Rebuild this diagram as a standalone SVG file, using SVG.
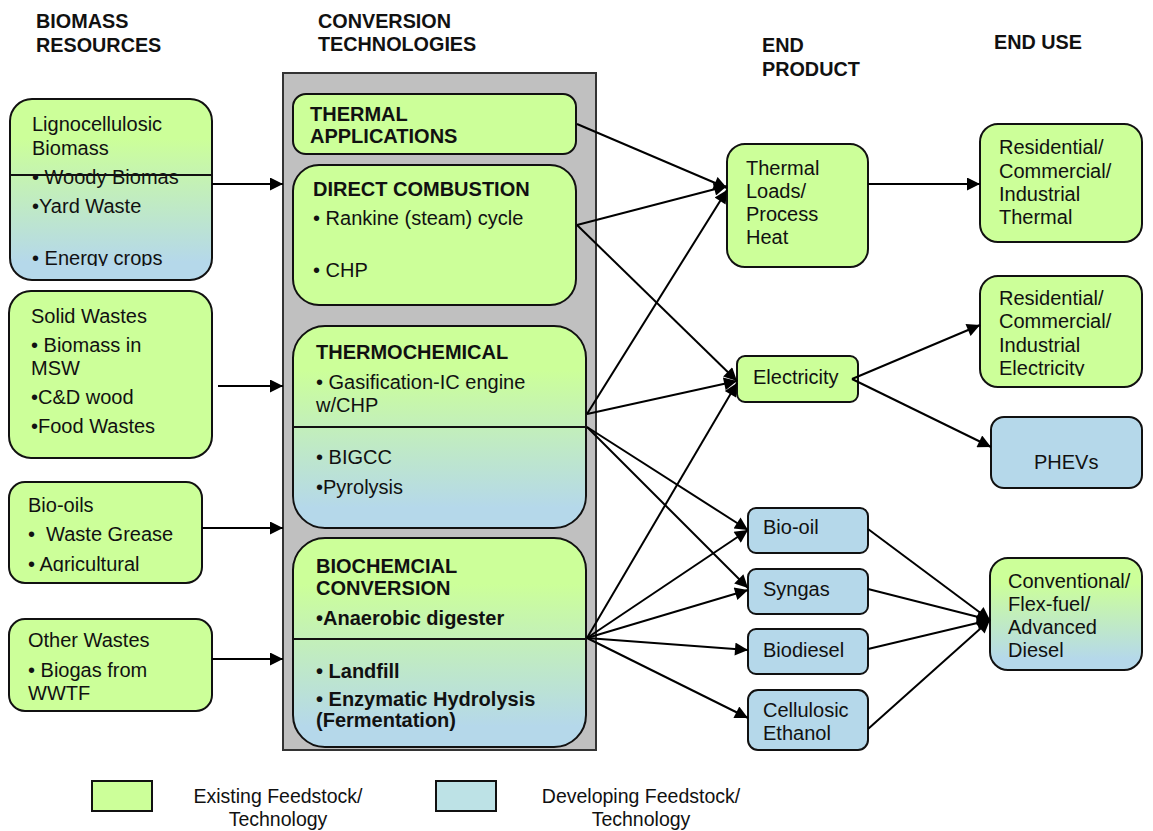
<svg xmlns="http://www.w3.org/2000/svg" width="1153" height="831" viewBox="0 0 1153 831">
<style>
text{font-family:"Liberation Sans",Arial,sans-serif;fill:#111}
.h{font-size:19.8px;font-weight:bold}
.t{font-size:20px}
.b{font-size:20px;font-weight:bold}
.lg{font-size:19.5px}
.g{fill:#ccff99;stroke:#111;stroke-width:2}
.bl{fill:#b5d8ea;stroke:#111;stroke-width:2}
.gr{fill:url(#gb);stroke:#111;stroke-width:2}
.div{stroke:#111;stroke-width:2}
.c{stroke:#000;stroke-width:2;fill:none;marker-end:url(#ah)}
</style>
<defs>
<linearGradient id="gb" x1="0" y1="0" x2="0" y2="1">
<stop offset="0.22" stop-color="#ccff99"/>
<stop offset="0.9" stop-color="#b5d8ea"/>
</linearGradient>
<marker id="ah" viewBox="0 0 10 10" refX="10" refY="5" markerWidth="15" markerHeight="13" markerUnits="userSpaceOnUse" orient="auto">
<path d="M0,0 L10,5 L0,10 z" fill="#000"/>
</marker>
<clipPath id="c1"><rect x="10" y="100" width="200" height="166"/></clipPath>
<clipPath id="c2"><rect x="10" y="483" width="190" height="89"/></clipPath>
<clipPath id="c3"><rect x="981" y="277" width="160" height="99"/></clipPath>
</defs>
<rect width="1153" height="831" fill="#fff"/>

<g id="headers">
<text class="h" x="36" y="28">BIOMASS</text>
<text class="h" x="36" y="52">RESOURCES</text>
<text class="h" x="318" y="28">CONVERSION</text>
<text class="h" x="318" y="51">TECHNOLOGIES</text>
<text class="h" x="762" y="52">END</text>
<text class="h" x="762" y="76">PRODUCT</text>
<text class="h" x="994" y="49">END USE</text>
</g>

<g id="conversion-container">
<rect x="283" y="73" width="313" height="677" fill="#c0c0c0" stroke="#333" stroke-width="2"/>
</g>

<g id="lignocellulosic">
<rect class="gr" x="10" y="99" width="202" height="181" rx="22"/>
<line class="div" x1="10" y1="175" x2="212" y2="175"/>
<text class="t" x="32" y="131">Lignocellulosic</text>
<text class="t" x="32" y="155">Biomass</text>
<text class="t" x="32" y="184">• Woody Biomas</text>
<text class="t" x="32" y="213">•Yard Waste</text>
<text class="t" x="32" y="265" clip-path="url(#c1)">• Energy crops</text>
</g>

<g id="solid-wastes">
<rect class="g" x="9" y="291" width="203" height="167" rx="22"/>
<text class="t" x="31" y="323">Solid Wastes</text>
<text class="t" x="31" y="352">• Biomass in</text>
<text class="t" x="31" y="375">MSW</text>
<text class="t" x="31" y="404">•C&amp;D wood</text>
<text class="t" x="31" y="433">•Food Wastes</text>
</g>

<g id="bio-oils">
<rect class="g" x="9" y="482" width="193" height="101" rx="16"/>
<text class="t" x="28" y="512">Bio-oils</text>
<text class="t" x="28" y="541">•&#160; Waste Grease</text>
<text class="t" x="28" y="571" clip-path="url(#c2)">• Agricultural</text>
</g>

<g id="other-wastes">
<rect class="g" x="9" y="619" width="203" height="92" rx="16"/>
<text class="t" x="28" y="647">Other Wastes</text>
<text class="t" x="28" y="677">• Biogas from</text>
<text class="t" x="28" y="700">WWTF</text>
</g>

<g id="thermal-applications">
<rect class="g" x="293" y="94" width="283" height="60" rx="13"/>
<text class="b" x="310" y="121">THERMAL</text>
<text class="b" x="310" y="143">APPLICATIONS</text>
</g>

<g id="direct-combustion">
<rect class="g" x="293" y="165" width="283" height="140" rx="26"/>
<text class="b" x="313" y="196">DIRECT COMBUSTION</text>
<text class="t" x="313" y="225">• Rankine (steam) cycle</text>
<text class="t" x="313" y="277">• CHP</text>
</g>

<g id="thermochemical">
<rect class="gr" x="293" y="326" width="293" height="202" rx="32"/>
<line class="div" x1="293" y1="427" x2="586" y2="427"/>
<text class="b" x="316" y="359">THERMOCHEMICAL</text>
<text class="t" x="316" y="389">• Gasification-IC engine</text>
<text class="t" x="316" y="412">w/CHP</text>
<text class="t" x="316" y="464">• BIGCC</text>
<text class="t" x="316" y="494">•Pyrolysis</text>
</g>

<g id="biochemical">
<rect class="gr" x="293" y="538" width="293" height="209" rx="32"/>
<line class="div" x1="293" y1="639" x2="586" y2="639"/>
<text class="b" x="316" y="573">BIOCHEMCIAL</text>
<text class="b" x="316" y="595">CONVERSION</text>
<text class="b" x="316" y="625">•Anaerobic digester</text>
<text class="b" x="316" y="678">• Landfill</text>
<text class="b" x="316" y="706">• Enzymatic Hydrolysis</text>
<text class="b" x="316" y="727">(Fermentation)</text>
</g>

<g id="thermal-loads">
<rect class="g" x="727" y="144" width="141" height="123" rx="18"/>
<text class="t" x="746" y="175">Thermal</text>
<text class="t" x="746" y="198">Loads/</text>
<text class="t" x="746" y="221">Process</text>
<text class="t" x="746" y="244">Heat</text>
</g>

<g id="electricity">
<rect class="g" x="737" y="356" width="121" height="46" rx="8"/>
<text class="t" x="753" y="384">Electricity</text>
</g>

<g id="bio-oil">
<rect class="bl" x="748" y="508" width="120" height="45" rx="8"/>
<text class="t" x="763" y="534">Bio-oil</text>
</g>

<g id="syngas">
<rect class="bl" x="748" y="569" width="120" height="45" rx="8"/>
<text class="t" x="763" y="596">Syngas</text>
</g>

<g id="biodiesel">
<rect class="bl" x="748" y="629" width="120" height="45" rx="8"/>
<text class="t" x="763" y="657">Biodiesel</text>
</g>

<g id="cellulosic-ethanol">
<rect class="bl" x="748" y="690" width="120" height="60" rx="10"/>
<text class="t" x="763" y="717">Cellulosic</text>
<text class="t" x="763" y="740">Ethanol</text>
</g>

<g id="res-thermal">
<rect class="g" x="980" y="124" width="162" height="118" rx="18"/>
<text class="t" x="999" y="154">Residential/</text>
<text class="t" x="999" y="178">Commercial/</text>
<text class="t" x="999" y="201">Industrial</text>
<text class="t" x="999" y="224">Thermal</text>
</g>

<g id="res-electricity">
<rect class="g" x="980" y="276" width="162" height="111" rx="18"/>
<text class="t" x="999" y="305">Residential/</text>
<text class="t" x="999" y="328">Commercial/</text>
<text class="t" x="999" y="352">Industrial</text>
<text class="t" x="999" y="375" clip-path="url(#c3)">Electricity</text>
</g>

<g id="phevs">
<rect class="bl" x="991" y="417" width="151" height="71" rx="13"/>
<text class="t" x="1034" y="469">PHEVs</text>
</g>

<g id="conventional">
<rect class="gr" x="990" y="558" width="152" height="112" rx="18"/>
<text class="t" x="1008" y="588">Conventional/</text>
<text class="t" x="1008" y="611">Flex-fuel/</text>
<text class="t" x="1008" y="634">Advanced</text>
<text class="t" x="1008" y="657">Diesel</text>
</g>

<g id="connectors">
<path class="c" d="M212,184 L283,184"/>
<path class="c" d="M218,386 L283,386"/>
<path class="c" d="M202,528 L283,528"/>
<path class="c" d="M212,659 L283,659"/>
<path class="c" d="M577,124 L727,188"/>
<path class="c" d="M577,225 L727,186"/>
<path class="c" d="M577,225 L737,381"/>
<path class="c" d="M587,414 L727,190"/>
<path class="c" d="M587,414 L737,381"/>
<path class="c" d="M587,427 L748,530"/>
<path class="c" d="M587,427 L748,588"/>
<path class="c" d="M587,638 L737,383"/>
<path class="c" d="M587,638 L748,530"/>
<path class="c" d="M587,638 L748,590"/>
<path class="c" d="M587,638 L748,650"/>
<path class="c" d="M587,638 L748,718"/>
<path class="c" d="M868,184 L980,184"/>
<path class="c" d="M852,379 L980,325"/>
<path class="c" d="M852,379 L991,447"/>
<path class="c" d="M868,529 L990,620"/>
<path class="c" d="M868,589 L990,620"/>
<path class="c" d="M868,649 L990,620"/>
<path class="c" d="M868,729 L990,620"/>
</g>

<g id="legend">
<rect x="92" y="781" width="60" height="30" fill="#ccff99" stroke="#111" stroke-width="2"/>
<text class="lg" x="278" y="803" text-anchor="middle">Existing Feedstock/</text>
<text class="lg" x="278" y="826" text-anchor="middle">Technology</text>
<rect x="436" y="781" width="60" height="30" fill="#bde2e6" stroke="#111" stroke-width="2"/>
<text class="lg" x="641" y="803" text-anchor="middle">Developing Feedstock/</text>
<text class="lg" x="641" y="826" text-anchor="middle">Technology</text>
</g>
</svg>
